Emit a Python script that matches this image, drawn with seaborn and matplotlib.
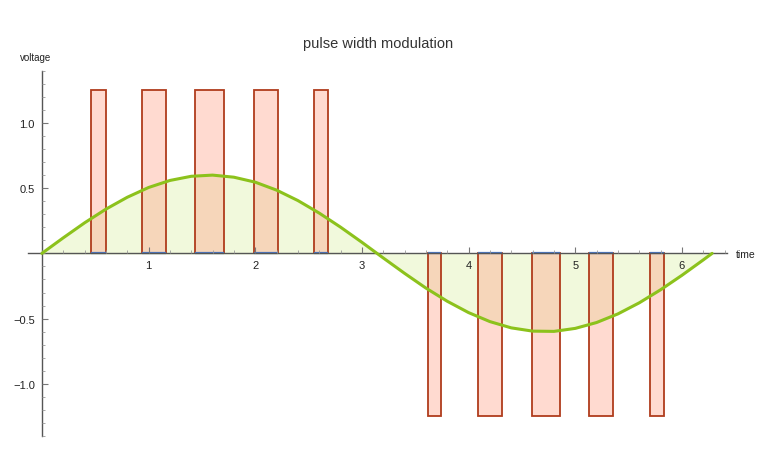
import matplotlib
matplotlib.use("Agg")
import matplotlib.pyplot as plt
from matplotlib.ticker import MultipleLocator, FixedLocator
import pandas as pd
import seaborn as sns

# sampled reference curve (voltage vs time)
curve_t = [0.0, 0.2, 0.4, 0.6, 0.8, 1.0, 1.2, 1.4, 1.6, 1.8, 2.0, 2.2, 2.4, 2.6, 2.8, 3.0,
           3.2, 3.4, 3.6, 3.8, 4.0, 4.2, 4.4, 4.6, 4.8, 5.0, 5.2, 5.4, 5.6, 5.8, 6.0, 6.2, 6.283]
curve_v = [0.0, 0.119, 0.234, 0.339, 0.430, 0.505, 0.559, 0.591, 0.600, 0.584, 0.546, 0.485,
           0.405, 0.309, 0.201, 0.085, -0.035, -0.153, -0.266, -0.367, -0.454, -0.523, -0.571,
           -0.596, -0.598, -0.575, -0.530, -0.464, -0.379, -0.279, -0.168, -0.050, 0.0]

# pulses: left edge, width, level
pulse_start = [0.465, 0.94, 1.44, 1.985, 2.555, 3.615, 4.09, 4.595, 5.13, 5.70]
pulse_width = [0.135, 0.225, 0.265, 0.225, 0.13, 0.13, 0.22, 0.26, 0.22, 0.13]
pulse_level = [1.25, 1.25, 1.25, 1.25, 1.25, -1.25, -1.25, -1.25, -1.25, -1.25]

x_ticks = [1, 2, 3, 4, 5, 6]
y_ticks = [-1.0, -0.5, 0.5, 1.0]
y_tick_labels = ["\u22121.0", "\u22120.5", "0.5", "1.0"]

curve = pd.DataFrame({"time": curve_t, "voltage": curve_v})

sns.set_style("white")
plt.rcParams["font.family"] = ["Liberation Sans", "DejaVu Sans"]

fig = plt.figure(figsize=(7.57, 4.6), dpi=100)
ax = fig.add_axes([0.037, 0.05, 0.923, 0.794])
ax.set_axisbelow(False)

# fill under the sine
ax.fill_between(curve["time"], curve["voltage"], 0, color="#f1f9dc", zorder=1)

# pulses
ax.bar(pulse_start, pulse_level, width=pulse_width, align="edge",
       facecolor=(1.0, 0.62, 0.52, 0.38), edgecolor="#b03c1c", linewidth=1.3, zorder=2)
ax.hlines([0] * len(pulse_start), pulse_start,
          [s + w for s, w in zip(pulse_start, pulse_width)],
          color="#4a78c8", linewidth=1.6, zorder=2.2)

sns.lineplot(data=curve, x="time", y="voltage", ax=ax, color="#8cc21c",
             linewidth=2.2, zorder=4)

ax.set_xlim(-0.13, 6.42)
ax.set_ylim(-1.4, 1.4)

ax.spines["left"].set_position(("data", 0))
ax.spines["bottom"].set_position(("data", 0))
ax.spines["top"].set_visible(False)
ax.spines["right"].set_visible(False)
for s in ("left", "bottom"):
    ax.spines[s].set_color("#555555")
    ax.spines[s].set_linewidth(1.0)

ax.xaxis.set_major_locator(FixedLocator(x_ticks))
ax.set_xticklabels([str(v) for v in x_ticks])
ax.yaxis.set_major_locator(FixedLocator(y_ticks))
ax.set_yticklabels(y_tick_labels)
ax.xaxis.set_minor_locator(MultipleLocator(0.2))
ax.yaxis.set_minor_locator(MultipleLocator(0.1))
ax.tick_params(which="major", direction="in", length=4, width=0.8, color="#777777",
               labelsize=8, labelcolor="#222222", bottom=True, left=True, pad=5)
ax.tick_params(which="minor", direction="in", length=2, width=0.6, color="#999999",
               bottom=True, left=True)

ax.set_xlabel("")
ax.set_ylabel("")

fig.text(0.5, 0.905, "pulse width modulation", ha="center", va="center",
         fontsize=10.5, color="#333333")
fig.text(0.026, 0.873, "voltage", ha="left", va="center", fontsize=7, color="#222222")
fig.text(0.972, 0.446, "time", ha="left", va="center", fontsize=7.5, color="#222222")

fig.savefig("out.png", dpi=100)
plt.close("all")
